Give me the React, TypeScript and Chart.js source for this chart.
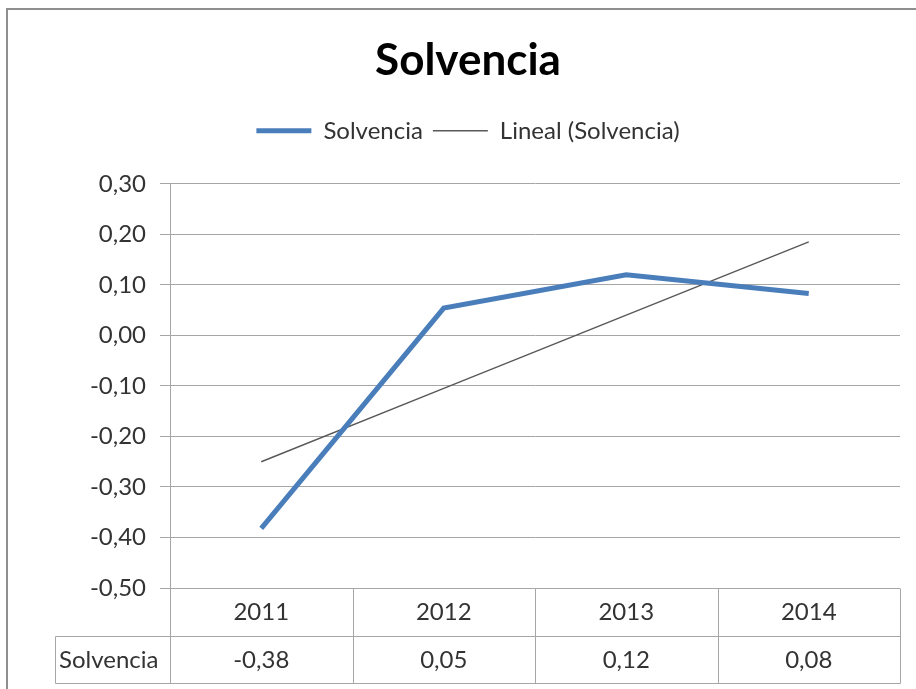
import React, { useEffect, useRef } from "react";
import { Chart, registerables } from "chart.js";

Chart.register(...registerables);

const categories = ["2011", "2012", "2013", "2014"];
const solvencia = [-0.382, 0.054, 0.12, 0.083];
const tendencia = [-0.25, -0.105, 0.04, 0.185];
const seriesName = "Solvencia";
const trendName = "Lineal (Solvencia)";
const titleText = "Solvencia";
const yMin = -0.5;
const yMax = 0.3;
const yStep = 0.1;

const FONT = "Lato, 'Open Sans', sans-serif";
const TEXT = "#333333";
const GRID = "#a6a6a6";

const fmt = (v: number) => {
  const r = Math.abs(v) < 1e-9 ? 0 : v;
  return r.toFixed(2).replace(".", ",");
};

const borderPlugin = {
  id: "outerBorder",
  beforeDraw(chart: any) {
    const { ctx } = chart;
    ctx.save();
    ctx.fillStyle = "#ffffff";
    ctx.fillRect(0, 0, chart.width, chart.height);
    ctx.strokeStyle = "#8f8f8f";
    ctx.lineWidth = 2;
    ctx.strokeRect(7, 9, 1000, 1000);
    ctx.restore();
  },
};

const tablePlugin = {
  id: "dataTable",
  afterDraw(chart: any) {
    const { ctx, chartArea } = chart;
    const xs = chart.scales.x;
    const left = chartArea.left;
    const right = chartArea.right;
    const top = chartArea.bottom;
    const rowH = 48;
    const labelLeft = left - 115;
    const n = categories.length;
    const colW = (right - left) / n;
    const crisp = (v: number) => Math.round(v) + 0.5;
    ctx.save();
    ctx.strokeStyle = GRID;
    ctx.lineWidth = 1;
    const line = (x1: number, y1: number, x2: number, y2: number) => {
      ctx.beginPath();
      ctx.moveTo(x1, y1);
      ctx.lineTo(x2, y2);
      ctx.stroke();
    };
    const r1 = crisp(top + rowH);
    const r2 = crisp(top + 2 * rowH - 1);
    line(crisp(labelLeft), r1, crisp(right), r1);
    line(crisp(labelLeft), r2, crisp(right), r2);
    for (let i = 0; i <= n; i++) {
      const x = crisp(left + i * colW);
      line(x, crisp(top), x, r2);
    }
    line(crisp(labelLeft), r1, crisp(labelLeft), r2);

    ctx.fillStyle = TEXT;
    ctx.font = `24px ${FONT}`;
    ctx.textBaseline = "middle";
    ctx.textAlign = "center";
    categories.forEach((c, i) => {
      const x = xs.getPixelForValue(i);
      ctx.fillText(c, x, top + rowH / 2);
      ctx.fillText(fmt(solvencia[i]), x, top + rowH * 1.5);
    });
    ctx.textAlign = "left";
    ctx.fillText(seriesName, labelLeft + 4, top + rowH * 1.5);
    ctx.restore();
  },
};

export default function App() {
  const ref = useRef<HTMLCanvasElement | null>(null);
  useEffect(() => {
    if (!ref.current) return;
    const chart = new Chart(ref.current, {
      type: "line",
      data: {
        labels: categories,
        datasets: [
          {
            label: seriesName,
            data: solvencia,
            borderColor: "#4a7ebb",
            backgroundColor: "#4a7ebb",
            borderWidth: 5,
            pointRadius: 0,
            tension: 0,
            pointStyle: "line",
          },
          {
            label: trendName,
            data: tendencia,
            borderColor: "#595959",
            backgroundColor: "#595959",
            borderWidth: 1.5,
            pointRadius: 0,
            tension: 0,
            pointStyle: "line",
          },
        ],
      },
      options: {
        responsive: false,
        animation: false,
        layout: { padding: { top: 10, left: 36, right: 16, bottom: 101 } },
        plugins: {
          title: {
            display: true,
            text: titleText,
            color: "#000000",
            font: { family: FONT, size: 44, weight: "bold", lineHeight: 1.2 },
            padding: { top: 24, bottom: 22 },
          },
          subtitle: {
            display: true,
            text: "",
            font: { family: FONT, size: 1, lineHeight: 1 },
            padding: { top: 30, bottom: 0 },
          },
          legend: {
            display: true,
            weight: 1600,
            labels: {
              usePointStyle: true,
              pointStyleWidth: 55,
              color: TEXT,
              font: { family: FONT, size: 24 },
              padding: 10,
            },
          },
          tooltip: { enabled: false },
        },
        scales: {
          x: {
            display: false,
            offset: true,
          },
          y: {
            min: yMin,
            max: yMax,
            afterFit: (scale: any) => {
              scale.width = 134;
            },
            ticks: {
              stepSize: yStep,
              color: TEXT,
              font: { family: FONT, size: 24 },
              padding: 14,
              callback: (v: any) => fmt(Number(v)),
            },
            grid: { color: GRID, tickLength: 10, lineWidth: 1 },
            border: { color: GRID, width: 1 },
          },
        },
      },
      plugins: [borderPlugin, tablePlugin],
    });
    return () => chart.destroy();
  }, []);
  return (
    <div style={{ position: "absolute", left: 0, top: 0, width: 916, height: 689 }}>
      <canvas ref={ref} width={916} height={689} style={{ display: "block" }} />
    </div>
  );
}
